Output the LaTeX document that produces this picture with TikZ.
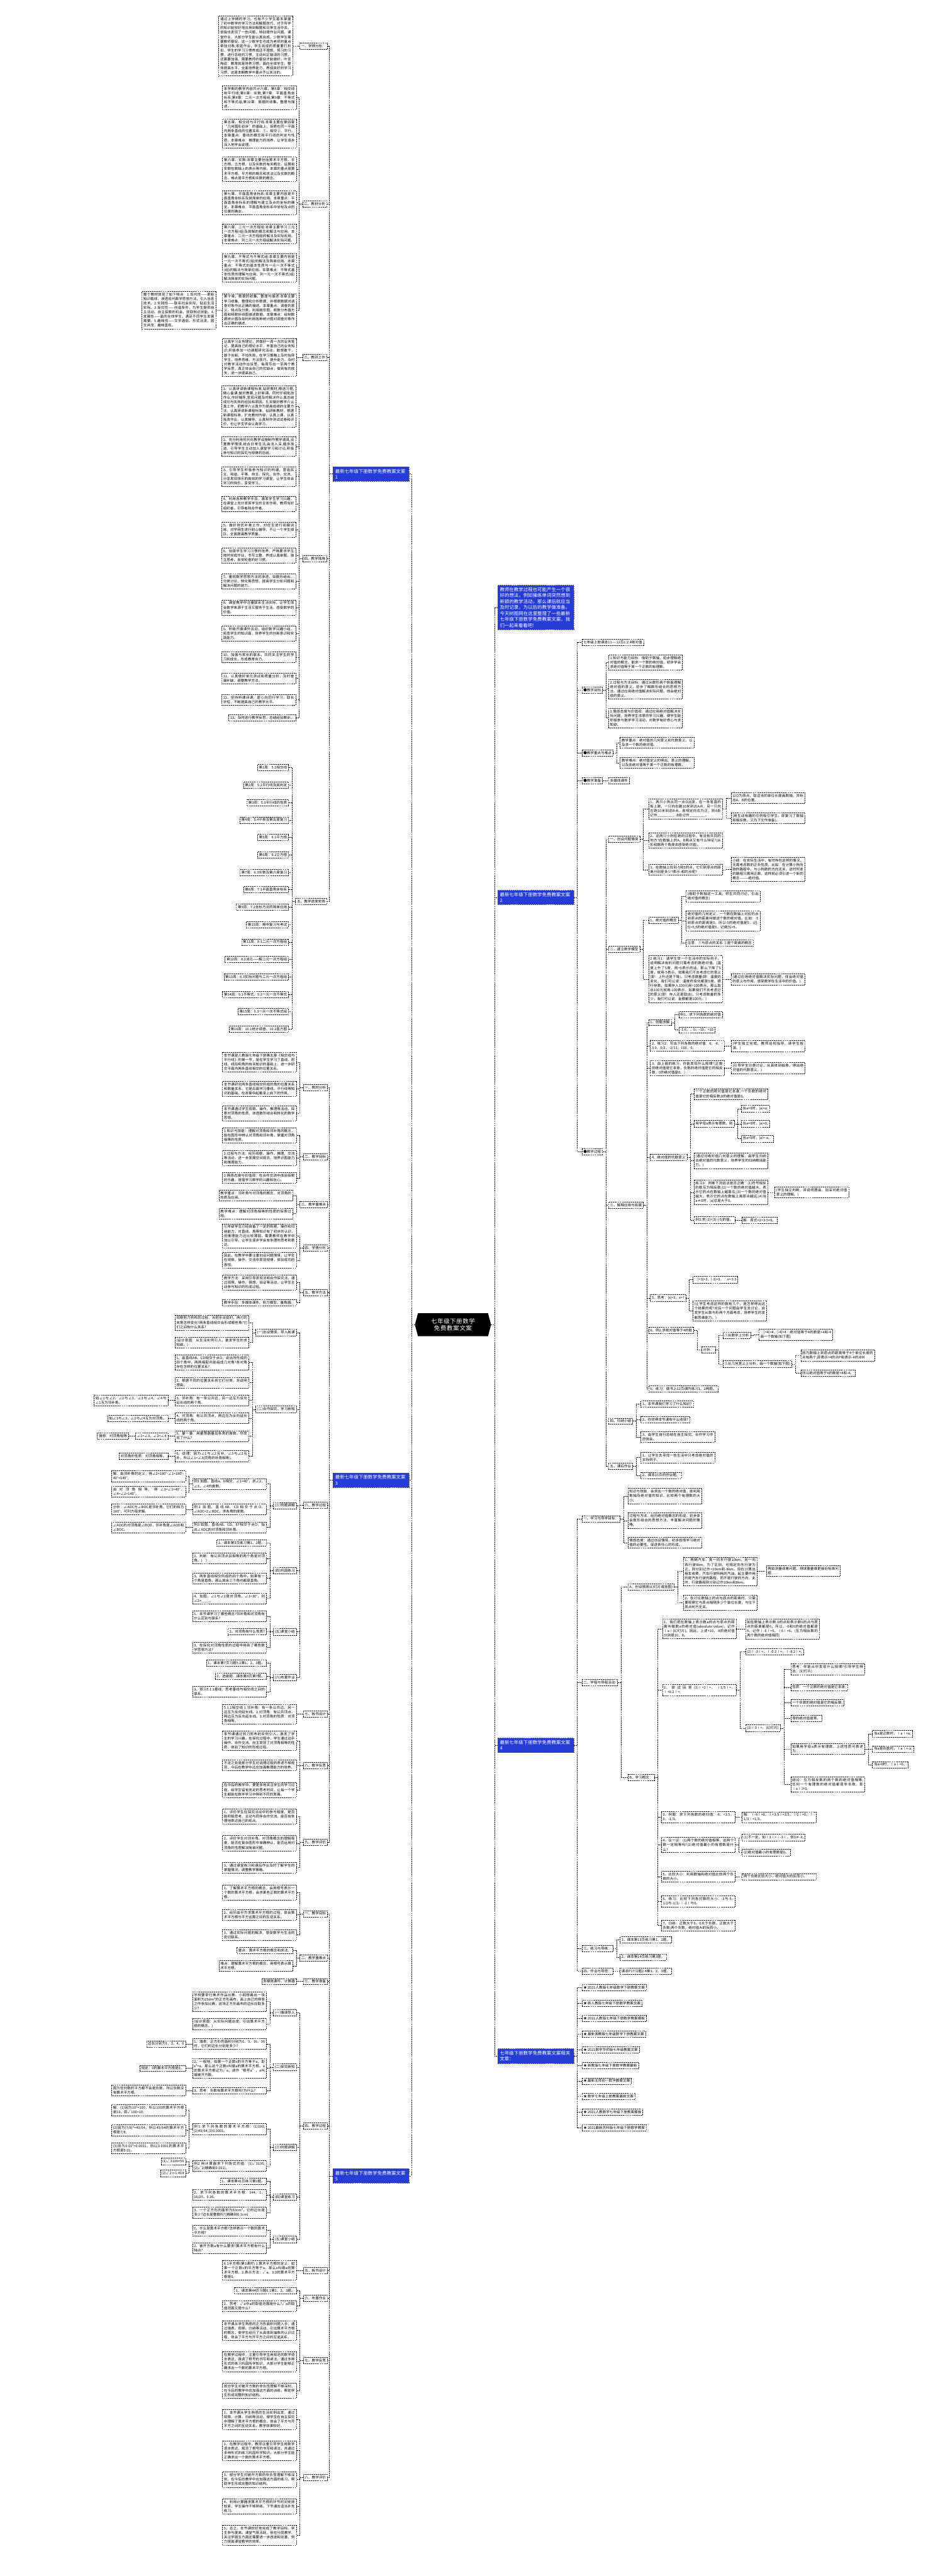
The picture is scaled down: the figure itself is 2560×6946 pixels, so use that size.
\documentclass[tikz,border=0pt]{standalone}
\usepackage{fontspec}
\setmainfont{Noto Sans CJK SC}
\XeTeXlinebreaklocale "zh"
\XeTeXlinebreakskip=0pt plus 1pt
\usetikzlibrary{shapes.symbols}
\definecolor{headblue}{RGB}{38,60,214}
\tikzset{
    conn/.style ={
        draw=black,
        line width=0.9pt,
        dash pattern=on 3pt off 2pt
    },
    leaf/.style ={
        draw=black,
        line width=0.9pt,
        dash pattern=on 3pt off 2pt,
        fill=white,
        font=\fontsize{9.5}{12}\selectfont,
        inner sep=4pt,
        align=left
    },
    para/.style ={
        leaf,
        text width=191pt,
        align=justify
    },
    head/.style ={
        draw=black!70,
        line width=0.9pt,
        dash pattern=on 3pt off 2pt,
        fill=headblue,
        text=white,
        font=\fontsize{12.5}{16}\selectfont,
        text width=193pt,
        inner sep=6pt,
        align=left
    },
    root/.style ={
        shape=signal,
        signal to=east and west,
        signal pointer angle=150,
        fill=black,
        text=white,
        font=\fontsize{16}{20}\selectfont,
        text width=182pt,
        minimum height=62pt,
        align=center
    },
    toleft/.style ={anchor=east, xshift=-18pt},
    toright/.style ={anchor=west, xshift=18pt}
}

\begin{document}
\begin{tikzpicture}[x=1pt,y=-1pt]
    \useasboundingbox (0,0) rectangle (2560,6946);
    \node[root] (root) at (1221,3572) {七年级下册数学免费教案文案};

    % left headings
    \node[head, anchor=east] (h1) at (1103,1278) {最新七年级下册数学免费教案文案1};
    \node[head, anchor=east] (h3) at (1103,3991) {最新七年级下册数学免费教案文案3};
    \node[head, anchor=east] (h5) at (1103,5867) {最新七年级下册数学免费教案文案5};
    % right headings
    \node[head, anchor=west] (intro) at (1341,1638) {教师在教学过程也可能产生一个很好的想法，例如操练单词突然想到新颖的教学活动，那么课后就应当及时记录，为以后的教学做准备。今天树图网在这里整理了一些最新七年级下册数学免费教案文案，我们一起来看看吧!};
    \node[head, anchor=west] (h2) at (1341,2420) {最新七年级下册数学免费教案文案2};
    \node[head, anchor=west] (h4) at (1341,4706) {最新七年级下册数学免费教案文案4};
    \node[head, anchor=west] (rel) at (1341,5544) {七年级下册数学免费教案文案相关文章：};

    % case 1
    \node[leaf, anchor=east] (xq) at (883,124) {一、学情分析：};
    \node[para, anchor=east] (xq1) at (789,124) {通过上学期的学习，也有不少学生基本掌握了初中数学的学习方法和解题技巧，对于所学的知识能较好地应用到解题和日常生活中去。但我也发现了一些问题，特别是作业问题。课堂作业，大部分学生能认真完成，少数学生需要教师督促，这一少数学生也成为老师的重点牵挂对象;家庭作业，学生完成的质量要打折扣，学生的学习习惯养成还不理想，预习的习惯，进行总结的习惯，主动纠正错误的习惯，还需要加强，需要教师的督促才能做好。叶圣陶说：教育就是培养习惯。面向全体学生，整体提高水平，全面培养能力，养成良好的学习习惯，这是本期教学中重点予以关注的。};
    \node[leaf, anchor=east] (jc) at (881,550) {二、教材分析};
    \node[para, anchor=east] (jc1) at (799,263) {本学期的教学内容共计六章，第5章：相交线和平行线;第6章：实数;第7章：平面直角坐标系;第8章：二元一次方程组;第9章：不等式和不等式组;第10章：数据的收集、整理与描述。};
    \node[para, anchor=east] (jc2) at (799,360) {第五章、相交线与平行线:本章主要在第四章“几何图形初步”的基础上，探索在同一平面内两条直线的位置关系：①、相交②、平行。本章重点：垂线的概念和平行线的判定与性质。本章难点：推理能力的培养，让学生逐步深入地学会说理。};
    \node[para, anchor=east] (jc3) at (799,456) {第六章、实数:本章主要包括算术平方根、平方根、立方根，以及实数的有关概念、运算和实数在数轴上的表示等内容。本章的重点是算术平方根、平方根的概念和求法以及实数的概念，难点是平方根和实数的概念。};
    \node[para, anchor=east] (jc4) at (799,547) {第七章、平面直角坐标系:本章主要内容是平面直角坐标系及其简单的应用。本章重点：平面直角坐标系的理解与建立及点的坐标的确定。本章难点：平面直角坐标系中坐标及点的位置的确定。};
    \node[para, anchor=east] (jc5) at (799,631) {第八章、二元一次方程组:本章主要学习二元一次方程(组)及其解的概念和解法与应用。本章重点：二元一次方程组的解法及实际应用。本章难点：列二元一次方程组解决实际问题。};
    \node[para, anchor=east] (jc6) at (799,722) {第九章、不等式与不等式组:本章主要内容是一元一次不等式(组)的解法及简单应用。本章重点：不等式的基本性质与一元一次不等式(组)的解法与简单应用。本章难点：不等式基本性质的理解与应用、列一元一次不等式(组)解决简单的实际问题。};
    \node[para, anchor=east] (jc7) at (799,836) {第十章、数据的收集、整理与描述:本章主要学习收集、整理和分析数据，并根据数据对调查对象作出正确的描述。本章重点：调查的意义、特点及分类，利用扇形图、频数分布直方图和频数折线图描述数据。本章难点：绘制数据统计图及如何利用各种统计图对调查对象作出正确的描述。};
    \node[para, anchor=east] (jc7a) at (582,836) {整个教材体现了如下特点：1.现代性——更新知识载体，渗透现代数学思想方法，引入信息技术。2.实践性——联系社会实际，贴近生活实际。3.探究性——创造条件，为学生提供自主活动、自主探索的机会，获取知识技能。4.发展性——面向全体学生，满足不同学生发展需要。5.趣味性——文字通俗，形式活泼，图文并茂，趣味直观。};
    \node[leaf, anchor=east] (jy) at (881,964) {三、教研工作};
    \node[para, anchor=east] (jy1) at (799,964) {认真学习业务理论，并做好一周一次的业务笔记，提高自己的理论水平，丰富自己的业务知识;积极参加一切课题研究活动，敢想敢干，敢于创新，不怕失败。在学习策略上及时指导学生，培养思维，方法技巧，提升能力，及时对教学活动作出反思，每周写出一至两个教学反思，真正体会自己的优缺点，做到有的放矢，进一步提高自己。};
    \node[leaf, anchor=east] (cuo) at (881,1506) {四、教学措施};
    \node[para, toleft] (m1) at (cuo.west |- 0,1096) {1、认真研读新课程标准,钻研教材,精选习题,精心备课,做好教案,上好新课。同时仔细批改作业,作好辅导,发现问题及时解决作认真总结成功与失败的经验和原因。扎实做好教学六认真工作，把教学六认真作为提高成绩的主要方法，认真研读新课程标准，钻研新教材，根据新课程标准，扩充教材内容，认真上课，认真批改作业，认真辅导，认真制作测试试卷和评价，也让学生学会认真学习。};
    \node[para, toleft] (m2) at (cuo.west |- 0,1204) {2、充分利用现代化教学设施制作教学道具,设置教学情境,结合日常生活,由浅入深,循序渐进。引导学生主动加入课堂学习和讨论,积极参与知识的探究与规律的总结。};
    \node[para, toleft] (m3) at (cuo.west |- 0,1285) {3、引导学生积极参与知识的构建，营造民主、和谐、平等、自主、探究、合作、交流、分享发现快乐的高效的学习课堂，让学生体会学习的快乐，享受学习。};
    \node[para, toleft] (m4) at (cuo.west |- 0,1358) {4、利用各种教学手段，激发学生学习兴趣，在课堂上充分发挥学生的主体作用，教师当好组织者、引导者和合作者。};
    \node[para, toleft] (m5) at (cuo.west |- 0,1428) {5、做好培优补差工作，对优生进行拓展训练，对学困生进行耐心辅导，不让一个学生掉队，全面提高教学质量。};
    \node[para, toleft] (m6) at (cuo.west |- 0,1498) {6、加强学生学习习惯的培养，严格要求学生按时完成作业，书写工整，养成认真审题、独立思考、自觉检查的好习惯。};
    \node[para, toleft] (m7) at (cuo.west |- 0,1568) {7、重视数学思想方法的渗透，如数形结合、分类讨论、转化等思想，提高学生分析问题和解决问题的能力。};
    \node[para, toleft] (m8) at (cuo.west |- 0,1638) {8、课堂教学中注重联系生活实际，让学生体会数学来源于生活又服务于生活，感受数学的价值。};
    \node[para, toleft] (m9) at (cuo.west |- 0,1708) {9、积极开展课外活动，组织数学兴趣小组，拓宽学生的知识面，培养学生的创新意识和实践能力。};
    \node[para, toleft] (m10) at (cuo.west |- 0,1772) {10、加强与家长的联系，共同关注学生的学习和成长，形成教育合力。};
    \node[para, toleft] (m11) at (cuo.west |- 0,1829) {11、认真做好单元测试和质量分析，及时查漏补缺，调整教学方法。};
    \node[para, toleft] (m12) at (cuo.west |- 0,1887) {12、坚持听课评课，虚心向同行学习，取长补短，不断提高自己的教学水平。};
    \node[leaf, toleft] (m13) at (cuo.west |- 0,1936) {13、及时进行教学反思，总结经验教训。};
    \node[leaf, anchor=east] (jd) at (881,2430) {五、教学进度安排};
    \foreach \n/\t [count=\k from 0] in {w1/第1周：5.1相交线, w2/第2周：5.2平行线及其判定, w3/第3周：5.3平行线的性质, w4/第4周：5.4平移及第五章复习, w5/第5周：6.1平方根, w6/第6周：6.2立方根, w7/第7周：6.3实数及第六章复习, w8/第8周：7.1平面直角坐标系, w9/第9周：7.2坐标方法的简单应用, w10/第10周：期中复习与考试, w11/第11周：8.1二元一次方程组, w12/第12周：8.2消元——解二元一次方程组, w13/第13周：8.3实际问题与二元一次方程组, w14/第14周：9.1不等式、9.2一元一次不等式, w15/第15周：9.3一元一次不等式组, w16/第16周：10.1统计调查、10.2直方图}
        \node[leaf, toleft] (\n) at (jd.west |- 0,2070+47*\k) {\t};

    % case 3
    \node[leaf, anchor=east] (t1) at (883,2933) {一、教材分析};
    \node[para, toleft] (t1a) at (t1.west |- 0,2864) {本节课是人教版七年级下册第五章《相交线与平行线》的第一节，是在学生学习了直线、射线、线段和角的有关知识的基础上，进一步研究平面内两条直线相交的位置关系。};
    \node[para, toleft] (t1b) at (t1.west |- 0,2936) {本节课研究两条直线相交所成的角的位置关系和数量关系，它是后面学习垂线、平行线等知识的基础，在本章中起着承上启下的作用。};
    \node[para, toleft] (t1c) at (t1.west |- 0,3002) {本节课通过学生观察、操作、推理等活动，探索对顶角的性质，渗透数形结合和转化的数学思想。};
    \node[leaf, anchor=east] (t2) at (883,3119) {二、教学目标};
    \node[para, toleft] (t2a) at (t2.west |- 0,3062) {1.知识与技能：理解对顶角和邻补角的概念，能在图形中辨认对顶角和邻补角，掌握对顶角相等的性质。};
    \node[para, toleft] (t2b) at (t2.west |- 0,3122) {2.过程与方法：经历观察、操作、推理、交流等活动，进一步发展空间观念，培养识图能力和推理能力。};
    \node[para, toleft] (t2c) at (t2.west |- 0,3176) {3.情感态度与价值观：在合作交流中体验探索的乐趣，增强学习数学的兴趣和信心。};
    \node[leaf, anchor=east] (t3) at (883,3248) {三、教学重难点};
    \node[para, toleft] (t3a) at (t3.west |- 0,3224) {教学重点：邻补角与对顶角的概念，对顶角的性质及应用。};
    \node[para, toleft] (t3b) at (t3.west |- 0,3272) {教学难点：理解对顶角相等的性质的探索过程。};
    \node[leaf, anchor=east] (t4) at (883,3365) {四、学情分析};
    \node[para, toleft] (t4a) at (t4.west |- 0,3332) {七年级学生已经具备了一定的观察、操作和归纳能力，对直线、角等知识有了初步的认识，但推理能力还比较薄弱，需要教师在教学中加以引导，让学生逐步学会有条理地思考和表达。};
    \node[para, toleft] (t4b) at (t4.west |- 0,3398) {因此，在教学中要注重创设问题情境，让学生在观察、操作、交流中发现规律，体验成功的喜悦。};
    \node[leaf, anchor=east] (t5) at (883,3485) {五、教学方法};
    \node[para, toleft] (t5a) at (t5.west |- 0,3458) {教学方法：采用引导发现法和合作探究法，通过观察、操作、猜想、验证等活动，让学生主动参与知识的形成过程。};
    \node[para, toleft] (t5b) at (t5.west |- 0,3512) {教学手段：多媒体课件、剪刀模型、量角器。};
    \node[leaf, anchor=east] (t6) at (883,4058) {六、教学过程};
    \node[leaf, toleft] (g1) at (t6.west |- 0,3593) {(一)创设情境，导入新课};
    \node[para, toleft] (g1a) at (g1.west |- 0,3566) {观察剪刀剪布的过程，当把手合拢时，两刃的夹角怎样变化?两条直线相交会形成哪些角?它们之间有什么关系?};
    \node[para, toleft] (g1b) at (g1.west |- 0,3620) {(设计意图：从生活实例引入，激发学生的求知欲。)};
    \node[leaf, toleft] (g2) at (t6.west |- 0,3800) {(二)合作探究，学习新知};
    \node[para, toleft] (g2a) at (g2.west |- 0,3674) {1、画直线AB、CD相交于点O，说出所形成的四个角中，两两相配共能组成几对角?各对角存在怎样的位置关系?};
    \node[para, toleft] (g2b) at (g2.west |- 0,3728) {2、根据不同的位置关系将它们分类，并说明理由。};
    \node[para, toleft] (g2c) at (g2.west |- 0,3776) {3、邻补角：有一条公共边，另一边互为反向延长线的两个角。};
    \node[para, toleft] (g2c1) at (g2c.west |- 0,3776) {如∠1与∠2，∠2与∠3，∠3与∠4，∠4与∠1互为邻补角。};
    \node[para, toleft] (g2d) at (g2.west |- 0,3824) {4、对顶角：有公共顶点，两边互为反向延长线的两个角。};
    \node[leaf, toleft] (g2d1) at (g2d.west |- 0,3824) {如∠1与∠3，∠2与∠4互为对顶角。};
    \node[para, toleft] (g2e) at (g2.west |- 0,3872) {5、量一量：用量角器量出各角的度数，你发现了什么?};
    \node[leaf, toleft] (g2e1) at (g2e.west |- 0,3872) {∠1=∠3，∠2=∠4};
    \node[leaf, toleft] (g2e1a) at (g2e1.west |- 0,3872) {猜想：对顶角相等};
    \node[para, toleft] (g2f) at (g2.west |- 0,3926) {6、说理：因为∠1与∠2互补，∠3与∠2互补，所以∠1=∠3(同角的补角相等)。};
    \node[leaf, toleft] (g2f1) at (g2f.west |- 0,3926) {对顶角的性质：对顶角相等。};
    \node[leaf, toleft] (g3) at (t6.west |- 0,4060) {(三)例题讲解};
    \node[para, toleft] (g3a) at (g3.west |- 0,4001) {例1 如图，直线a、b相交，∠1=40°，求∠2、∠3、∠4的度数。};
    \node[para, toleft] (g3a1) at (g3a.west |- 0,3980) {解：由邻补角的定义，得∠2=180°-∠1=180°-40°=140°;};
    \node[para, toleft] (g3a2) at (g3a.west |- 0,4022) {由对顶角相等，得∠3=∠1=40°，∠4=∠2=140°。};
    \node[para, toleft] (g3b) at (g3.west |- 0,4070) {例2 如图，直线AB、CD相交于点O，∠AOC=2∠BOC，求各角的度数。};
    \node[para, toleft] (g3b1) at (g3b.west |- 0,4070) {分析：∠AOC与∠BOC是邻补角，它们的和为180°，可列方程求解。};
    \node[para, toleft] (g3c) at (g3.west |- 0,4118) {例3 如图，直线AB、CD、EF相交于点O，指出∠AOC的对顶角和邻补角。};
    \node[para, toleft] (g3c1) at (g3c.west |- 0,4118) {∠AOC的对顶角是∠BOD，邻补角是∠AOD和∠BOC。};
    \node[leaf, toleft] (g4) at (t6.west |- 0,4235) {(四)巩固练习};
    \node[leaf, toleft] (g4a) at (g4.west |- 0,4160) {1、课本第3页练习第1、2题。};
    \node[para, toleft] (g4b) at (g4.west |- 0,4202) {2、判断：有公共顶点且相等的两个角是对顶角。(　)};
    \node[para, toleft] (g4c) at (g4.west |- 0,4256) {3、两条直线相交所成的四个角中，如果有一个角是直角，那么其余三个角也都是直角。};
    \node[para, toleft] (g4d) at (g4.west |- 0,4310) {4、如图，∠1与∠2是对顶角，∠1=30°，则∠2=\_\_\_\_。};
    \node[leaf, toleft] (g5) at (t6.west |- 0,4400) {(五)课堂小结};
    \node[para, toleft] (g5a) at (g5.west |- 0,4358) {1、本节课学习了哪些概念?邻补角和对顶角有什么区别与联系?};
    \node[leaf, toleft] (g5b) at (g5.west |- 0,4400) {2、对顶角有什么性质?};
    \node[para, toleft] (g5c) at (g5.west |- 0,4442) {3、在探究对顶角性质的过程中用到了哪些数学思想方法?};
    \node[leaf, toleft] (g6) at (t6.west |- 0,4523) {(六)布置作业};
    \node[leaf, toleft] (g6a) at (g6.west |- 0,4484) {1、课本第7页习题5.1第1、2、3题。};
    \node[leaf, toleft] (g6b) at (g6.west |- 0,4520) {2、选做题：课本第8页第7题。};
    \node[para, toleft] (g6c) at (g6.west |- 0,4562) {3、预习5.1.2垂线，思考垂线与相交线之间的联系。};
    \node[leaf, anchor=east] (t7) at (883,4622) {七、板书设计};
    \node[para, toleft] (t7a) at (t7.west |- 0,4622) {5.1.1相交线 1.邻补角：有一条公共边，另一边互为反向延长线。2.对顶角：有公共顶点，两边互为反向延长线。3.对顶角的性质：对顶角相等。};
    \node[leaf, anchor=east] (t8) at (883,4760) {八、教学反思};
    \node[para, toleft] (t8a) at (t8.west |- 0,4694) {本节课通过剪刀剪布的实例引入，激发了学生的学习兴趣。在探究过程中，学生通过动手操作、合作交流，自主发现了对顶角相等的性质，体验了知识的形成过程。};
    \node[para, toleft] (t8b) at (t8.west |- 0,4760) {不足之处是部分学生对说理过程的表述不够规范，今后在教学中还应加强推理能力的培养。};
    \node[para, toleft] (t8c) at (t8.west |- 0,4826) {在今后的教学中，要更多地关注学生的学习过程，给学生留有充足的思考时间，让每一个学生都能在数学学习中得到不同的发展。};
    \node[leaf, anchor=east] (t9) at (883,4967) {九、教学评价};
    \node[para, toleft] (t9a) at (t9.west |- 0,4898) {1、评价学生在探究活动中的参与程度，是否能积极思考、主动与同伴合作交流，能否有条理地表达自己的观点。};
    \node[para, toleft] (t9b) at (t9.west |- 0,4970) {2、评价学生对邻补角、对顶角概念的理解程度，能否在复杂图形中准确辨认，能否运用对顶角的性质解决简单问题。};
    \node[para, toleft] (t9c) at (t9.west |- 0,5036) {3、通过课堂练习和课后作业及时了解学生的掌握情况，调整教学策略。};

    % case 5
    \node[leaf, anchor=east] (f1) at (883,5160) {一、教学目标};
    \node[para, toleft] (f1a) at (f1.west |- 0,5103) {1、了解算术平方根的概念，会用根号表示一个数的算术平方根，会求某些正数的算术平方根。};
    \node[para, toleft] (f1b) at (f1.west |- 0,5163) {2、经历由平方求算术平方根的过程，体会算术平方根与平方运算之间的互逆关系。};
    \node[para, toleft] (f1c) at (f1.west |- 0,5217) {3、通过实际问题的解决，感受数学与生活的密切联系。};
    \node[leaf, anchor=east] (f2) at (883,5280) {二、教学重难点};
    \node[leaf, toleft] (f2a) at (f2.west |- 0,5259) {重点：算术平方根的概念和求法。};
    \node[para, toleft] (f2b) at (f2.west |- 0,5301) {难点：理解算术平方根的概念，用根号表示算术平方根。};
    \node[leaf, anchor=east] (f3) at (883,5343) {三、教学准备};
    \node[leaf, toleft] (f3a) at (f3.west |- 0,5343) {多媒体课件、计算器};
    \node[leaf, anchor=east] (f4) at (883,5732) {四、教学过程};
    \node[leaf, toleft] (s1) at (f4.west |- 0,5427) {(一)情境导入};
    \node[para, toleft] (s1a) at (s1.west |- 0,5397) {学校要举行美术作品比赛，小鸥想裁出一块面积为25dm²的正方形画布，画上自己的得意之作参加比赛，这块正方形画布的边长应取多少?};
    \node[para, toleft] (s1b) at (s1.west |- 0,5457) {(设计意图：从实际问题出发，引出算术平方根的概念。)};
    \node[leaf, toleft] (s2) at (f4.west |- 0,5574) {(二)探究新知};
    \node[para, toleft] (s2a) at (s2.west |- 0,5511) {1、填表：正方形的面积分别为1、9、16、36时，它们的边长分别是多少?};
    \node[leaf, toleft] (s2a1) at (s2a.west |- 0,5511) {边长分别为1、3、4、6};
    \node[para, toleft] (s2b) at (s2.west |- 0,5577) {2、一般地，如果一个正数x的平方等于a，即x²=a，那么这个正数x叫做a的算术平方根。a的算术平方根记为√a，读作“根号a”，a叫做被开方数。};
    \node[leaf, toleft] (s2b1) at (s2b.west |- 0,5577) {规定：0的算术平方根是0。};
    \node[para, toleft] (s2c) at (s2.west |- 0,5637) {3、思考：负数有算术平方根吗?为什么?};
    \node[para, toleft] (s2c1) at (s2c.west |- 0,5637) {因为任何数的平方都不会是负数，所以负数没有算术平方根。};
    \node[leaf, toleft] (s3) at (f4.west |- 0,5790) {(三)例题讲解};
    \node[para, toleft] (s3a) at (s3.west |- 0,5741) {例1 求下列各数的算术平方根：(1)100;(2)49/64;(3)0.0001。};
    \node[para, toleft] (s3a1) at (s3a.west |- 0,5690) {解：(1)因为10²=100，所以100的算术平方根是10，即√100=10;};
    \node[para, toleft] (s3a2) at (s3a.west |- 0,5744) {(2)因为(7/8)²=49/64，所以49/64的算术平方根是7/8;};
    \node[para, toleft] (s3a3) at (s3a.west |- 0,5792) {(3)因为0.01²=0.0001，所以0.0001的算术平方根是0.01。};
    \node[para, toleft] (s3b) at (s3.west |- 0,5840) {例2 用计算器求下列各式的值：(1)√3136;(2)√2(精确到0.001)。};
    \node[leaf, toleft] (s3b1) at (s3b.west |- 0,5828) {(1)√3136=56};
    \node[leaf, toleft] (s3b2) at (s3b.west |- 0,5860) {(2)√2≈1.414};
    \node[leaf, toleft] (s4) at (f4.west |- 0,5924) {(四)课堂练习};
    \node[leaf, toleft] (s4a) at (s4.west |- 0,5882) {1、课本第41页练习第1题。};
    \node[para, toleft] (s4b) at (s4.west |- 0,5918) {2、求下列各数的算术平方根：144，1，16/25，0.36。};
    \node[para, toleft] (s4c) at (s4.west |- 0,5966) {3、一个正方形的面积为50cm²，它的边长是多少?边长是整数吗?(精确到0.1cm)};
    \node[leaf, toleft] (s5) at (f4.west |- 0,6038) {(五)课堂小结};
    \node[para, toleft] (s5a) at (s5.west |- 0,6014) {1、什么是算术平方根?怎样表示一个数的算术平方根?};
    \node[para, toleft] (s5b) at (s5.west |- 0,6062) {2、被开方数a有什么要求?算术平方根有什么特点?};
    \node[leaf, anchor=east] (f5) at (883,6122) {五、板书设计};
    \node[para, toleft] (f5a) at (f5.west |- 0,6122) {6.1平方根(第1课时) 1.算术平方根的定义：如果一个正数x的平方等于a，那么x叫做a的算术平方根。2.表示方法：√a。3.0的算术平方根是0。};
    \node[leaf, anchor=east] (f6) at (883,6197) {六、布置作业};
    \node[leaf, toleft] (f6a) at (f6.west |- 0,6176) {1、课本第44页习题6.1第1、2、3题。};
    \node[para, toleft] (f6b) at (f6.west |- 0,6218) {2、思考：√a中a的取值范围是什么?√a的取值范围又是什么?};
    \node[leaf, anchor=east] (f7) at (883,6365) {七、教学反思};
    \node[para, toleft] (f7a) at (f7.west |- 0,6284) {本节课从学生熟悉的正方形面积问题入手，通过填表、观察、归纳等活动，引出算术平方根的概念，使学生经历了从具体到抽象的认识过程，体会了平方与开平方之间的互逆关系。};
    \node[para, toleft] (f7b) at (f7.west |- 0,6368) {在教学过程中，注重引导学生用规范的数学语言表达，强调了根号的书写和读法，通过多种形式的练习巩固所学知识，大部分学生能够正确求出一个数的算术平方根。};
    \node[para, toleft] (f7c) at (f7.west |- 0,6446) {部分学生对被开方数的非负性理解不够深刻，在今后的教学中应加强这方面的训练，帮助学生形成完整的知识结构。};
    \node[leaf, anchor=east] (f8) at (883,6680) {八、教学评价};
    \node[para, toleft] (f8a) at (f8.west |- 0,6524) {1、本节课从学生熟悉的生活实例出发，通过观察、计算、归纳等活动，使学生在自主探究中理解了算术平方根的概念，体会了平方与开平方之间的互逆关系，教学效果较好。};
    \node[para, toleft] (f8b) at (f8.west |- 0,6608) {2、在教学过程中，教师注重引导学生用数学语言表达，规范了根号的书写和读法，并通过多种形式的练习巩固所学知识，大部分学生能正确求出一个数的算术平方根。};
    \node[para, toleft] (f8c) at (f8.west |- 0,6686) {3、部分学生对被开方数的非负性理解不够深刻，在今后的教学中应加强这方面的练习，帮助学生形成完整的知识结构。};
    \node[para, toleft] (f8d) at (f8.west |- 0,6758) {4、利用计算器求算术平方根的环节时间安排较紧，学生操作不够熟练，下节课应适当补充练习。};
    \node[para, toleft] (f8e) at (f8.west |- 0,6836) {5、总之，本节课较好地完成了教学目标，学生参与度高，课堂气氛活跃，但在分层教学、关注学困生方面还需要进一步改进和完善，努力提高课堂教学的效率。};

    % case 2
    \node[leaf, anchor=west] (kb) at (1568,1732) {七年级上册课本11----12页1.2.4绝对值};
    \node[leaf, anchor=west] (mb) at (1568,1861) {●教学目标};
    \node[para, anchor=west] (mb1) at (1640,1786) {1.知识与能力目标：借助于数轴，初步理解绝对值的概念，能求一个数的绝对值，初步学会求绝对值等于某一个正数的有理数。};
    \node[para, anchor=west] (mb2) at (1640,1858) {2.过程与方法目标：通过从数形两个侧面理解绝对值的意义，初步了解数形结合的思想方法。通过应用绝对值解决实际问题，体会绝对值的意义。};
    \node[para, anchor=west] (mb3) at (1640,1936) {3.情感态度与价值观：通过应用绝对值解决实际问题，培养学生浓厚的学习兴趣，使学生能积极参与数学学习活动，对数学有好奇心与求知欲。};
    \node[leaf, anchor=west] (zd) at (1568,2030) {●教学重点与难点};
    \node[para, anchor=west] (zd1) at (1671,2003) {教学重点：绝对值的几何意义和代数意义，以及求一个数的绝对值。};
    \node[para, anchor=west] (zd2) at (1671,2057) {教学难点：绝对值定义的得出、意义的理解，以及求绝对值等于某一个正数的有理数。};
    \node[leaf, anchor=west] (zb) at (1568,2105) {●教学准备};
    \node[leaf, anchor=west] (zb1) at (1640,2105) {多媒体课件};
    \node[leaf, anchor=west] (gc) at (1568,3105) {●教学过程};
    \node[leaf, anchor=west] (cs) at (1640,2263) {一、创设问题情境};
    \node[para, anchor=west] (cs1) at (1748,2181) {1、两只小狗从同一点O出发，在一条笔直的街上跑，一只向右跑10米到达A点，另一只向左跑10米到达B点。若规定向右为正，则A处记作\_\_\_\_\_\_\_\_，B处记作\_\_\_\_\_\_\_\_。};
    \node[para, anchor=west] (cs1a) at (1970,2152) {以O为原点，取适当的单位长度画数轴，并标出A、B的位置。};
    \node[para, anchor=west] (cs1b) at (1970,2206) {(用生动有趣的引例吸引学生，即复习了数轴和相反数，又为下文作准备)。};
    \node[para, anchor=west] (cs2) at (1748,2266) {2、这两只小狗在跑的过程中，有没有共同的地方?在数轴上的A、B两点又有什么特征?(从形和数两个角度去感受绝对值)。};
    \node[para, anchor=west] (cs3) at (1748,2345) {3、在数轴上找到-5和5的点，它们到原点的距离分别是多少?表示-和的点呢?};
    \node[para, anchor=west] (cs3a) at (1970,2344) {小结：在实际生活中，有时存在这样的情况，无需考虑数的正负性质，比如：在计算小狗所跑的路程中，与小狗跑的方向无关，这时所走的路程只需用正数，这样就必须引进一个新的概念———绝对值。};
    \node[leaf, anchor=west] (jl) at (1640,2560) {二、建立数学模型};
    \node[leaf, anchor=west] (jl1) at (1748,2481) {1、绝对值的概念};
    \node[para, anchor=west] (jl1a) at (1849,2417) {(借助于数轴这一工具，师生共同讨论，引出绝对值的概念)};
    \node[para, anchor=west] (jl1b) at (1849,2483) {绝对值的几何定义：一个数在数轴上对应的点到原点的距离叫做这个数的绝对值。比如：-5到原点的距离是5，所以-5的绝对值是5，记|-5|=5;5的绝对值是5，记做|5|=5。};
    \node[leaf, anchor=west] (jl1c) at (1849,2543) {注意：①与原点的关系 ②是个距离的概念};
    \node[para, anchor=west] (jl2) at (1748,2640) {2.练习1：请学生举一个生活中的实际例子，说明解决有的问题只需考虑的数绝对值。[温度上升了5度，用+5表示的话，那么下降了5度，就用-5表示，如果我们不去考虑它的意义(即：上升还是下降)，只考虑数量(即：温度的变化，我们可以说：温度的变化都是5度。银行存款，如果存入100元用+100表示，那么取出100元就用-100表示，如果我们不去考虑它的意义(即：存入还是取出)，只考虑数量的多少，我们可以说：金额都是100元。]};
    \node[para, anchor=west] (jl2a) at (1970,2641) {(通过应用绝对值解决实际问题，体会绝对值的意义与作用，感受数学在生活中的价值。)};
    \node[leaf, anchor=west] (yy) at (1640,3249) {三、解释应用与拓展};
    \node[leaf, anchor=west] (yy1) at (1748,2757) {1、例题求解};
    \node[leaf, anchor=west] (yy1a) at (1829,2736) {例1、求下列各数的绝对值};
    \node[leaf, anchor=west] (yy1b) at (1829,2777) {-1.6，，0，-10，+10};
    \node[para, toright] (yy2) at (yy.east |- 0,2820) {2、练习2：写出下列各数的绝对值：6，-8，-3.9，5/2，-2/11，100，0。};
    \node[para, toright] (yy2a) at (yy2.east |- 0,2820) {(学生独立完成，教师巡视指导，请学生板演。)};
    \node[para, toright] (yy3) at (yy.east |- 0,2880) {3、由上面的练习，你能发现什么规律?(正数的绝对值是它本身，负数的绝对值是它的相反数，0的绝对值是0。)};
    \node[para, toright] (yy3a) at (yy3.east |- 0,2880) {(引导学生分类讨论，从具体到抽象，得出绝对值的代数意义。)};
    \node[leaf, toright] (yy4) at (yy.east |- 0,3120) {4、绝对值的代数意义};
    \node[para, toright] (yk1) at (yy4.east |- 0,2950) {一个正数的绝对值是它本身;一个负数的绝对值是它的相反数;0的绝对值是0。};
    \node[leaf, toright] (yk2) at (yy4.east |- 0,3030) {用字母a表示有理数，则};
    \node[leaf, toright] (yk2a) at (yk2.east |- 0,2990) {当a>0时，|a|=a;};
    \node[leaf, toright] (yk2b) at (yk2.east |- 0,3030) {当a=0时，|a|=0;};
    \node[leaf, toright] (yk2c) at (yk2.east |- 0,3070) {当a<0时，|a|=-a。};
    \node[para, toright] (yk3) at (yy4.east |- 0,3130) {(通过对绝对值几何意义的理解，由学生归纳出绝对值的代数意义，培养学生的归纳概括能力。)};
    \node[para, toright] (yk4) at (yy4.east |- 0,3215) {练习3：判断下列说法是否正确：(1)符号相反的数互为相反数;(2)一个数的绝对值越大，表示它的点在数轴上越靠右;(3)一个数的绝对值越大，表示它的点在数轴上离原点越远;(4)当a≠0时，|a|总是大于0。};
    \node[para, toright] (yk4a) at (yk4.east |- 0,3215) {(学生独立判断，并说明理由，加深对绝对值意义的理解。)};
    \node[leaf, toright] (yk5) at (yy4.east |- 0,3290) {例3.求|-2|+|3|-|-5|的值。};
    \node[leaf, toright] (yk5a) at (yk5.east |- 0,3290) {解：原式=2+3-5=0。};
    \node[leaf, toright] (yy5) at (yy.east |- 0,3500) {5、思考：|x|=3，x=?};
    \node[leaf, toright] (yy5a) at (yy5.east |- 0,3450) {∵|+3|=3，|-3|=3，∴x=±3};
    \node[para, toright] (yy5b) at (yy5.east |- 0,3535) {(让学生考虑这样的数有几个，是怎样得出这个结果的呢?对后一个问题由学生去讨论，启发学生从数与形两个方面考虑，培养学生的发散思维能力。)};
    \node[leaf, anchor=west] (yy6) at (1748,3587) {6、例2.求绝对值等于4的数};
    \node[leaf, anchor=west] (fx) at (1891,3639) {分析：};
    \node[leaf, anchor=west] (fx1) at (1948,3600) {①从数学上分析};
    \node[para, anchor=west] (fx1a) at (2045,3599) {∵|+4|=4，|-4|=4∴绝对值等于4的数是+4和-4画一个数轴(如下图)};
    \node[leaf, anchor=west] (fx2) at (1948,3678) {②从几何意义上分析，画一个数轴(如下图)};
    \node[para, anchor=west] (fx2a) at (2158,3655) {因为数轴上到原点的距离等于4个单位长度的点有两个,即表示+4的点P和表示-4的点M};
    \node[leaf, anchor=west] (fx2b) at (2158,3702) {所以绝对值等于4的数是+4和-4。};
    \node[leaf, anchor=west] (yy7) at (1748,3745) {6、练习：做书上12页课内练习1、2两题。};
    \node[leaf, anchor=west] (gn) at (1640,3832) {四、归纳小结};
    \node[leaf, anchor=west] (gn1) at (1727,3786) {1、本节课我们学习了什么知识?};
    \node[leaf, anchor=west] (gn2) at (1727,3828) {2、你觉得本节课有什么收获?};
    \node[para, anchor=west] (gn3) at (1727,3875) {3、由学生自行总结在自主探究、合作学习中的体会。};
    \node[leaf, anchor=west] (zy) at (1640,3954) {五、课后作业};
    \node[para, anchor=west] (zy1) at (1727,3930) {1、让学生去寻找一些生活中只考虑绝对值的实际例子。};
    \node[leaf, anchor=west] (zy2) at (1727,3978) {2、课本15页的作业题。};

    % case 4
    \node[leaf, anchor=west] (dx) at (1568,4095) {一、学习与导学目标：};
    \node[para, anchor=west] (dx1) at (1692,4034) {知识与技能：会求出一个数的绝对值，能利用数轴及绝对值的知识，比较两个有理数的大小;};
    \node[para, anchor=west] (dx2) at (1692,4100) {过程与方法：经历绝对值概念的形成，初步体会数形结合的思想方法，丰富解决问题的策略;};
    \node[para, anchor=west] (dx3) at (1692,4160) {情感态度：通过创设情境，初步感悟学习绝对值的必要性，促进责任心的形成。};
    \node[leaf, anchor=west] (xc) at (1568,4536) {二、学程与导程活动:};
    \node[leaf, anchor=west] (xcA) at (1692,4279) {A、创设情境(幻灯片或挂图)};
    \node[para, anchor=west] (xcA1) at (1841,4237) {1、两辆汽车，其一向东行驶10km，另一向西行驶8km，为了区别，可规定向东行驶为正，则分别记作+10km和-8km。但在计算出租车收费，汽车行驶所耗的汽油，起主要作用的是汽车行驶的路程，而不是行驶的方向，此时，行驶路程则分别记作10km和8km。};
    \node[para, anchor=west] (xcA1a) at (2065,4236) {再如测量误差问题、排球重量谁更接近标准问题……};
    \node[para, anchor=west] (xcA2) at (1841,4321) {2、在讨论数轴上的点与原点的距离时，只需要观察它与原点相隔多少个单位长度，与位于原点何方无关。};
    \node[leaf, anchor=west] (xcB) at (1692,4792) {B、学习概念：};
    \node[para, anchor=west] (xcB1) at (1785,4392) {1、我们把在数轴上表示数a的点与原点的距离叫做数a的绝对值(absolute value)，记作∣a∣(幻灯片)。因此，上述+10，-8的绝对值分别是10，8。};
    \node[para, anchor=west] (xcB1a) at (2009,4392) {如在数轴上表示数-6的点和表示数6的点与原点的距离都是6，所以，-6和6的绝对值都是6，记作∣-6∣=6，∣6∣=6。(互为相反数的两个数的绝对值相同)};
    \node[para, anchor=west] (xcB2) at (1785,4557) {2、尝试回答(1)∣+2∣=，∣1/5∣=，∣+8.2∣=;};
    \node[leaf, anchor=west] (xcB2a) at (2009,4454) {(2)∣-3∣=，∣-0.2∣=，∣-8.2∣=;};
    \node[leaf, anchor=west] (xcB2b) at (2009,4660) {(3)∣0∣=。(幻灯片)};
    \node[para, anchor=west] (sk) at (2131,4501) {思考：你能从中发现什么规律?引导学生得出：(幻灯片)};
    \node[leaf, anchor=west] (xz1) at (2131,4550) {性质：一个正数的绝对值是它本身;};
    \node[leaf, anchor=west] (xz2) at (2131,4591) {一个负数的绝对值是它的相反数;};
    \node[leaf, anchor=west] (xz3) at (2131,4633) {零的绝对值是零。};
    \node[para, anchor=west] (xz4) at (2131,4716) {如果用字母a表示有理数，上述性质可表述为：};
    \node[leaf, anchor=west] (xz4a) at (2351,4675) {当a是正数时，∣a∣=a;};
    \node[leaf, anchor=west] (xz4b) at (2351,4716) {当a是负数时，∣a∣=-a;};
    \node[leaf, anchor=west] (xz4c) at (2351,4758) {当a=0时，∣a∣=0。};
    \node[para, anchor=west] (xz5) at (2131,4812) {结论：互为相反数的两个数的绝对值相等;任何一个有理数的绝对值都是非负数，即∣a∣≥0。};
    \node[para, toright] (xcB3) at (xcB.east |- 0,4900) {3、例题：求下列各数的绝对值：-8，+3.5，0，-1/3。};
    \node[para, toright] (xcB3a) at (xcB3.east |- 0,4900) {解：∣-8∣=8，∣+3.5∣=3.5，∣0∣=0，∣-1/3∣=1/3。};
    \node[para, toright] (xcB4) at (xcB.east |- 0,4975) {4、议一议：(1)两个数的绝对值相等，这两个数一定相等吗?(2)绝对值最小的有理数是什么?};
    \node[leaf, toright] (xcB4a) at (xcB4.east |- 0,4955) {(1)不一定，如∣3∣=∣-3∣，但3≠-3;};
    \node[leaf, toright] (xcB4b) at (xcB4.east |- 0,4995) {(2)绝对值最小的有理数是0。};
    \node[para, toright] (xcB5) at (xcB.east |- 0,5060) {5、比较大小：利用数轴和绝对值比较两个负数的大小。};
    \node[para, toright] (xcB5a) at (xcB5.east |- 0,5060) {两个负数比较大小，绝对值大的反而小。};
    \node[para, toright] (xcB6) at (xcB.east |- 0,5127) {6、练习：比较下列各对数的大小：-3与-5;-1/2与-1/3;-∣-2∣与0。};
    \node[para, toright] (xcB7) at (xcB.east |- 0,5192) {7、归纳：正数大于0，0大于负数，正数大于负数;两个负数，绝对值大的反而小。};
    \node[leaf, anchor=west] (lx) at (1568,5254) {三、练习与导练：};
    \node[leaf, toright] (lx1) at (lx.east |- 0,5231) {1、课本第13页练习第1、2题。};
    \node[leaf, toright] (lx2) at (lx.east |- 0,5277) {2、课本第14页练习第3题。};
    \node[leaf, anchor=west] (zs) at (1568,5315) {四、作业与导思：};
    \node[leaf, toright] (zs1) at (zs.east |- 0,5315) {课本P17习题2.4第1、2、3题。};

    % related
    \foreach \n/\t [count=\k from 0] in {r1/2021人教版七年级数学下册教案文案, r2/新人教版七年级下册数学教案文案, r3/2021人教版七年级下册数学教案模板, r4/最新湘教版七年级数学下册教案文案, r5/2021数学华师版七年级教案文案, r6/新教版七年级下册数学教案最新, r7/最新北师初一数学教案文案, r8/数学七年级上册教案最新文案, r9/2021人教数学七年级下册教案模板, r10/2021最新苏科版七年级下册数学教案}
        \node[leaf, anchor=west] (\n) at (1568,5359+42*\k) {★ \t};

    % connectors
    \foreach \c in {h1,h3,h5}
        \draw[conn] (root.west) -- ++(-9pt,0) |- (\c.east);
    \foreach \c in {intro,h2,h4,rel}
        \draw[conn] (root.east) -- ++(9pt,0) |- (\c.west);
    % left side
    \foreach \p/\c in {h1/xq, h1/jc, h1/jy, h1/cuo, h1/jd, xq/xq1, jc/jc1, jc/jc2, jc/jc3, jc/jc4, jc/jc5, jc/jc6, jc/jc7, jc7/jc7a, jy/jy1,
        cuo/m1, cuo/m2, cuo/m3, cuo/m4, cuo/m5, cuo/m6, cuo/m7, cuo/m8, cuo/m9, cuo/m10, cuo/m11, cuo/m12, cuo/m13,
        jd/w1, jd/w2, jd/w3, jd/w4, jd/w5, jd/w6, jd/w7, jd/w8, jd/w9, jd/w10, jd/w11, jd/w12, jd/w13, jd/w14, jd/w15, jd/w16}
        \draw[conn] (\p.west) -- ++(-9pt,0) |- (\c.east);
    \foreach \p/\c in {h3/t1, h3/t2, h3/t3, h3/t4, h3/t5, h3/t6, h3/t7, h3/t8, h3/t9, t1/t1a, t1/t1b, t1/t1c, t2/t2a, t2/t2b, t2/t2c,
        t3/t3a, t3/t3b, t4/t4a, t4/t4b, t5/t5a, t5/t5b, t6/g1, t6/g2, t6/g3, t6/g4, t6/g5, t6/g6, g1/g1a, g1/g1b,
        g2/g2a, g2/g2b, g2/g2c, g2/g2d, g2/g2e, g2/g2f, g2c/g2c1, g2d/g2d1, g2e/g2e1, g2e1/g2e1a, g2f/g2f1,
        g3/g3a, g3/g3b, g3/g3c, g3a/g3a1, g3a/g3a2, g3b/g3b1, g3c/g3c1, g4/g4a, g4/g4b, g4/g4c, g4/g4d,
        g5/g5a, g5/g5b, g5/g5c, g6/g6a, g6/g6b, g6/g6c, t7/t7a, t8/t8a, t8/t8b, t8/t8c, t9/t9a, t9/t9b, t9/t9c}
        \draw[conn] (\p.west) -- ++(-9pt,0) |- (\c.east);
    \foreach \p/\c in {h5/f1, h5/f2, h5/f3, h5/f4, h5/f5, h5/f6, h5/f7, h5/f8, f1/f1a, f1/f1b, f1/f1c, f2/f2a, f2/f2b, f3/f3a,
        f4/s1, f4/s2, f4/s3, f4/s4, f4/s5, s1/s1a, s1/s1b, s2/s2a, s2/s2b, s2/s2c, s2a/s2a1, s2b/s2b1, s2c/s2c1,
        s3/s3a, s3/s3b, s3a/s3a1, s3a/s3a2, s3a/s3a3, s3b/s3b1, s3b/s3b2, s4/s4a, s4/s4b, s4/s4c, s5/s5a, s5/s5b,
        f5/f5a, f6/f6a, f6/f6b, f7/f7a, f7/f7b, f7/f7c, f8/f8a, f8/f8b, f8/f8c, f8/f8d, f8/f8e}
        \draw[conn] (\p.west) -- ++(-9pt,0) |- (\c.east);
    % right side
    \foreach \p/\c in {h2/kb, h2/mb, h2/zd, h2/zb, h2/gc, mb/mb1, mb/mb2, mb/mb3, zd/zd1, zd/zd2, zb/zb1,
        gc/cs, gc/jl, gc/yy, gc/gn, gc/zy, cs/cs1, cs/cs2, cs/cs3, cs1/cs1a, cs1/cs1b, cs3/cs3a,
        jl/jl1, jl/jl2, jl1/jl1a, jl1/jl1b, jl1/jl1c, jl2/jl2a, yy/yy1, yy1/yy1a, yy1/yy1b,
        yy/yy2, yy/yy3, yy/yy4, yy/yy5, yy/yy6, yy/yy7, yy2/yy2a, yy3/yy3a,
        yy4/yk1, yy4/yk2, yy4/yk3, yy4/yk4, yy4/yk5, yk2/yk2a, yk2/yk2b, yk2/yk2c, yk4/yk4a, yk5/yk5a, yy5/yy5a, yy5/yy5b,
        yy6/fx, fx/fx1, fx/fx2, fx1/fx1a, fx2/fx2a, fx2/fx2b, gn/gn1, gn/gn2, gn/gn3, zy/zy1, zy/zy2}
        \draw[conn] (\p.east) -- ++(9pt,0) |- (\c.west);
    \foreach \p/\c in {h4/dx, h4/xc, h4/lx, h4/zs, dx/dx1, dx/dx2, dx/dx3, xc/xcA, xc/xcB, xcA/xcA1, xcA/xcA2, xcA1/xcA1a,
        xcB/xcB1, xcB/xcB2, xcB/xcB3, xcB/xcB4, xcB/xcB5, xcB/xcB6, xcB/xcB7, xcB1/xcB1a, xcB2/xcB2a, xcB2/xcB2b,
        xcB2b/sk, xcB2b/xz1, xcB2b/xz2, xcB2b/xz3, xcB2b/xz4, xcB2b/xz5, xz4/xz4a, xz4/xz4b, xz4/xz4c,
        xcB3/xcB3a, xcB4/xcB4a, xcB4/xcB4b, xcB5/xcB5a, lx/lx1, lx/lx2, zs/zs1,
        rel/r1, rel/r2, rel/r3, rel/r4, rel/r5, rel/r6, rel/r7, rel/r8, rel/r9, rel/r10}
        \draw[conn] (\p.east) -- ++(9pt,0) |- (\c.west);
\end{tikzpicture}
\end{document}
